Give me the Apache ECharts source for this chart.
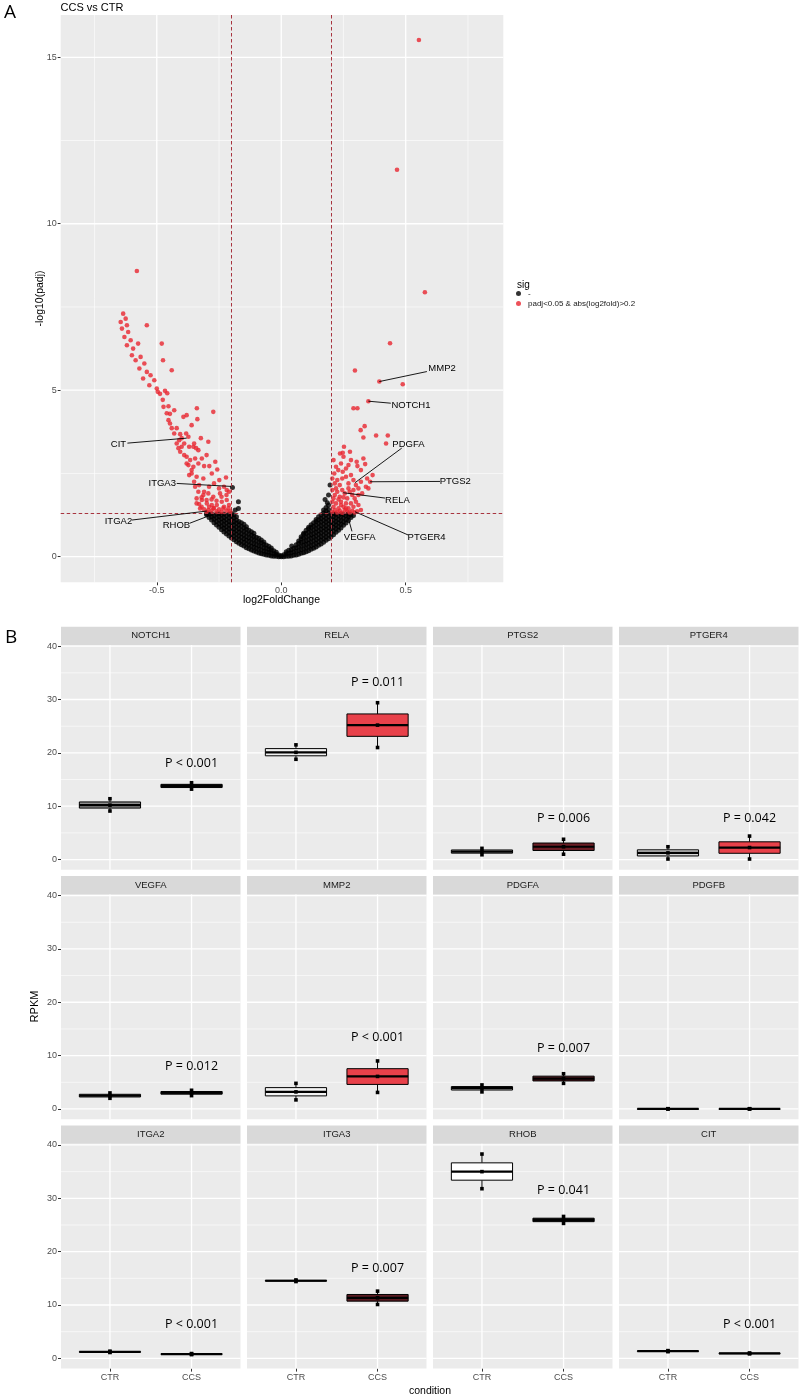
<!DOCTYPE html>
<html><head><meta charset="utf-8">
<script src="https://cdn.jsdelivr.net/npm/echarts@6/dist/echarts.min.js"></script>
<style>html,body{margin:0;padding:0;background:#fff}#c{width:800px;height:1397px}</style>
</head><body><div id="c"></div>
<script>
// ================= DATA =================
// Volcano: non-significant genes (black), given as columns [log2FoldChange, [-log10(padj) ...]]
const blackCols = [
 [-0.300,[1.26,1.30]],[-0.290,[1.18,1.28]],[-0.280,[1.10,1.20,1.29]],[-0.270,[1.02,1.13,1.24]],
 [-0.260,[0.95,1.06,1.17,1.28]],[-0.250,[0.88,0.99,1.10,1.21,1.29]],[-0.240,[0.81,0.92,1.03,1.14,1.25]],
 [-0.230,[0.74,0.85,0.96,1.07,1.18,1.28]],[-0.220,[0.68,0.79,0.90,1.01,1.12,1.23]],
 [-0.210,[0.62,0.73,0.84,0.95,1.06,1.17,1.28]],[-0.200,[0.56,0.67,0.78,0.89,1.00,1.11,1.22,1.30]],
 [-0.190,[0.51,0.62,0.73,0.84,0.95,1.06,1.17,1.26]],[-0.180,[0.45,0.56,0.67,0.78,0.89,1.00,1.10,1.20]],
 [-0.170,[0.40,0.51,0.62,0.73,0.84,0.95,1.06]],[-0.160,[0.36,0.47,0.58,0.69,0.80,0.91,1.02]],
 [-0.150,[0.32,0.43,0.54,0.65,0.76,0.87,0.97]],[-0.140,[0.27,0.38,0.49,0.60,0.71,0.82,0.90]],
 [-0.130,[0.24,0.35,0.46,0.57,0.68,0.79]],[-0.120,[0.20,0.31,0.42,0.53,0.64,0.75]],
 [-0.110,[0.17,0.28,0.39,0.50,0.61,0.70]],[-0.100,[0.14,0.25,0.36,0.47,0.58]],
 [-0.090,[0.11,0.22,0.33,0.44,0.55]],[-0.080,[0.09,0.20,0.31,0.42,0.50]],
 [-0.070,[0.07,0.17,0.27,0.37,0.44]],[-0.060,[0.05,0.15,0.25,0.35]],[-0.050,[0.04,0.13,0.22,0.31]],
 [-0.040,[0.02,0.11,0.20,0.26]],[-0.030,[0.01,0.09,0.18]],[-0.020,[0.01,0.07,0.13]],[-0.010,[0.00,0.05]],
 [0.000,[0.00,0.03]],[0.010,[0.00,0.06]],[0.020,[0.01,0.09,0.15]],[0.030,[0.01,0.10,0.19]],
 [0.040,[0.02,0.12,0.21]],[0.050,[0.04,0.14,0.25]],[0.060,[0.05,0.16,0.27,0.36]],
 [0.070,[0.07,0.18,0.29,0.40,0.47]],[0.080,[0.10,0.21,0.32,0.43,0.54,0.60]],
 [0.090,[0.12,0.23,0.34,0.45,0.56,0.67,0.70]],[0.100,[0.15,0.26,0.37,0.48,0.59,0.70,0.79]],
 [0.110,[0.18,0.29,0.40,0.51,0.62,0.73,0.84,0.88]],[0.120,[0.22,0.33,0.44,0.55,0.66,0.77,0.88,0.96]],
 [0.130,[0.25,0.36,0.47,0.58,0.69,0.80,0.91,1.02]],[0.140,[0.29,0.40,0.51,0.62,0.73,0.84,0.95,1.06,1.12]],
 [0.150,[0.34,0.45,0.56,0.67,0.78,0.89,1.00,1.11,1.20]],[0.160,[0.38,0.49,0.60,0.71,0.82,0.93,1.04,1.15,1.26]],
 [0.170,[0.43,0.54,0.65,0.76,0.87,0.98,1.09,1.20,1.31,1.40]],
 [0.180,[0.49,0.60,0.71,0.82,0.93,1.04,1.15,1.26,1.37,1.48]],
 [0.190,[0.54,0.65,0.76,0.87,0.98,1.09,1.20,1.31,1.42,1.55]],
 [0.200,[0.60,0.71,0.82,0.93,1.04,1.15,1.26]],[0.210,[0.66,0.77,0.88,0.99,1.10,1.21,1.29]],
 [0.220,[0.73,0.84,0.95,1.06,1.17,1.28]],[0.230,[0.79,0.90,1.01,1.12,1.23]],
 [0.240,[0.86,0.97,1.08,1.19,1.29]],[0.250,[0.94,1.05,1.16,1.27]],[0.260,[1.01,1.12,1.23]],
 [0.270,[1.09,1.20,1.29]],[0.280,[1.18,1.27]],[0.290,[1.24]]
];
const blackExtra = [[0.042,0.32],[-0.196,2.08],[-0.172,1.65],[-0.172,1.45],[-0.185,1.40],
 [0.196,2.15],[0.176,1.72],[0.185,1.62],[0.190,1.85]];
// Volcano: significant genes (red) [log2FoldChange, -log10(padj)]
const redPoints = [
 [0.553,15.52],[0.465,11.62],[0.577,7.94],[0.437,6.41],[0.296,5.59],[0.394,5.26],[0.488,5.18],[0.350,4.67],[0.290,4.46],[0.306,4.46],
 [0.319,3.80],[0.335,3.92],[0.330,3.58],[0.381,3.64],[0.428,3.64],[0.421,3.40],[0.252,3.30],[0.236,3.10],[0.247,3.12],[0.276,3.15],
 [0.330,2.95],[0.303,2.85],[0.306,2.72],[0.337,2.78],[0.367,2.45],[0.213,2.50],[0.229,2.60],[0.247,2.55],[0.357,2.25],[0.345,2.35],
 [0.205,2.35],[0.215,2.20],[0.225,2.30],[0.235,2.15],[0.245,2.35],[0.260,2.40],[0.270,2.20],[0.280,2.45],[0.290,2.30],[0.300,2.15],
 [0.310,2.05],[0.320,2.25],[0.340,2.10],[0.350,2.05],[0.205,2.00],[0.215,1.85],[0.225,1.95],[0.235,1.80],[0.245,2.00],[0.255,1.90],
 [0.265,1.75],[0.275,1.95],[0.285,1.85],[0.295,1.75],[0.310,1.85],[0.325,1.90],[0.205,1.65],[0.210,1.50],[0.220,1.60],[0.230,1.45],
 [0.240,1.65],[0.250,1.50],[0.260,1.60],[0.270,1.45],[0.280,1.60],[0.290,1.50],[0.300,1.65],[0.310,1.55],[0.320,1.40],[0.205,1.35],
 [0.215,1.40],[0.225,1.33],[0.235,1.38],[0.245,1.32],[0.255,1.40],[0.265,1.35],[0.275,1.33],[0.285,1.38],[0.295,1.33],[0.305,1.36],
 [0.220,2.70],[0.240,2.80],[0.260,2.65],[0.280,2.90],[0.250,3.00],[0.270,2.75],[0.320,2.60],[0.210,2.90],[0.230,1.72],[0.250,1.78],
 [0.210,1.75],[0.270,2.05],[0.290,2.00],[0.220,2.05],[0.240,1.55],[0.260,1.45],
 [-0.580,8.58],
 [-0.635,7.30],[-0.625,7.15],[-0.645,7.05],[-0.620,6.95],[-0.640,6.85],[-0.615,6.75],[-0.630,6.60],[-0.605,6.50],
 [-0.620,6.35],[-0.595,6.25],[-0.575,6.40],[-0.600,6.05],[-0.585,5.90],[-0.565,6.00],[-0.550,5.80],[-0.570,5.65],
 [-0.540,5.55],[-0.525,5.45],[-0.555,5.35],[-0.510,5.30],[-0.530,5.15],[-0.500,5.05],[-0.540,6.95],[-0.480,6.40],
 [-0.475,5.90],[-0.440,5.60],
 [-0.496,4.95],[-0.487,4.89],[-0.467,4.98],[-0.458,4.91],[-0.476,4.71],[-0.473,4.50],[-0.453,4.52],[-0.460,4.31],[-0.447,4.29],
 [-0.339,4.46],[-0.273,4.35],[-0.453,4.10],[-0.447,4.00],[-0.440,3.86],[-0.420,3.86],[-0.393,4.20],[-0.360,3.95],[-0.337,4.13],
 [-0.406,3.68],[-0.382,3.70],[-0.373,3.60],[-0.400,3.56],[-0.420,3.40],[-0.413,3.26],[-0.406,3.15],[-0.353,3.30],[-0.342,3.26],
 [-0.323,3.56],[-0.293,3.45],[-0.333,3.20],[-0.380,3.00],[-0.366,2.90],[-0.346,2.95],[-0.319,2.95],[-0.373,2.75],[-0.353,2.70],
 [-0.333,2.80],[-0.310,2.72],[-0.289,2.72],[-0.257,2.62],[-0.360,2.50],[-0.340,2.40],[-0.313,2.35],[-0.279,2.50],[-0.249,2.30],
 [-0.222,2.38],[-0.346,2.10],[-0.333,1.95],[-0.313,1.85],[-0.293,1.90],[-0.273,1.80],[-0.246,1.90],[-0.219,2.00],[-0.319,1.70],
 [-0.299,1.60],[-0.279,1.55],[-0.259,1.55],[-0.239,1.65],[-0.219,1.70],[-0.212,1.45],[-0.233,1.45],[-0.273,1.45],[-0.293,1.40],
 [-0.326,1.45],[-0.340,1.60],[-0.300,1.35],[-0.310,1.42],[-0.320,1.50],[-0.330,1.58],[-0.290,1.50],[-0.280,1.38],[-0.270,1.46],
 [-0.260,1.36],[-0.250,1.42],[-0.240,1.35],[-0.230,1.50],[-0.220,1.38],[-0.210,1.55],[-0.205,1.36],[-0.300,1.70],[-0.320,1.78],
 [-0.340,1.75],[-0.310,1.95],[-0.330,2.15],[-0.350,2.25],[-0.280,1.72],[-0.260,1.68],[-0.240,1.80],[-0.220,1.85],[-0.210,1.95],
 [-0.230,2.10],[-0.250,2.05],[-0.270,2.20],[-0.290,2.10],[-0.360,2.60],[-0.370,2.45],[-0.380,2.80],[-0.390,3.05],[-0.400,3.30],
 [-0.410,3.50],[-0.390,3.40],[-0.430,3.70],[-0.370,3.30],[-0.350,3.40],[-0.380,4.25],[-0.430,4.40],[-0.300,3.05],[-0.265,2.85]
];
// Gene labels: [name, point x, point y, line end x, line end y, text x, text y] (data units)
const geneLabels = [
 ['MMP2',0.394,5.26,0.585,5.56,0.646,5.66],
 ['NOTCH1',0.350,4.67,0.440,4.61,0.521,4.53],
 ['PDGFA',0.296,2.22,0.484,3.26,0.511,3.38],
 ['PTGS2',0.357,2.25,0.638,2.26,0.699,2.27],
 ['RELA',0.249,1.92,0.417,1.76,0.467,1.70],
 ['PTGER4',0.296,1.35,0.510,0.65,0.584,0.58],
 ['VEGFA',0.263,1.33,0.284,0.76,0.315,0.58],
 ['CIT',-0.380,3.56,-0.618,3.41,-0.654,3.38],
 ['ITGA3',-0.2016,2.11,-0.420,2.20,-0.478,2.20],
 ['ITGA2',-0.299,1.37,-0.600,1.10,-0.654,1.07],
 ['RHOB',-0.293,1.22,-0.369,1.00,-0.421,0.95]
];
const volcanoXTicks = [-0.5, 0, 0.5];
const volcanoXMinor = [-0.75, -0.25, 0.25, 0.75];
const volcanoYTicks = [0, 5, 10, 15];
const volcanoYMinor = [2.5, 7.5, 12.5];
const padjCut = 1.3;          // -log10(0.05)
const lfcCut = [-0.2, 0.2];

// Box plots (RPKM, 3 samples per condition)
const genes = ['NOTCH1','RELA','PTGS2','PTGER4','VEGFA','MMP2','PDGFA','PDGFB','ITGA2','ITGA3','RHOB','CIT'];
const conditions = ['CTR','CCS'];
const ctrSamples = [[9.1,10.2,11.4],[18.8,20.1,21.5],[0.9,1.5,2.1],[0.1,1.25,2.4],[2.0,2.5,3.0],[1.7,3.2,4.8],
 [3.2,3.9,4.5],[0.0,0.02,0.05],[1.1,1.2,1.35],[14.4,14.55,14.7],[31.8,35.0,38.3],[1.25,1.35,1.45]];
const ccsSamples = [[13.2,13.8,14.4],[21.0,25.2,29.4],[1.0,2.4,3.8],[0.1,2.25,4.4],[2.5,3.05,3.5],[3.1,6.1,9.0],
 [4.8,5.7,6.6],[0.0,0.02,0.05],[0.7,0.8,0.9],[10.1,11.35,12.6],[25.3,25.95,26.6],[0.85,0.93,1.0]];
const ctrFill = ['#8f8f8f','#f0f0f0','#d0d0d0','#d6d6d6','#e0e0e0','#f2f2f2','#e0e0e0','#ffffff','#e0e0e0','#e0e0e0','#ffffff','#e0e0e0'];
const ccsFill = ['#1e1e1e','#e8414a','#6b1d24','#e8414a','#222222','#e8414a','#5a1a20','#ffffff','#222222','#5a1a20','#222222','#222222'];
const pTexts = ['P < 0.001','P = 0.011','P = 0.006','P = 0.042','P = 0.012','P < 0.001','P = 0.007','','P < 0.001','P = 0.007','P = 0.041','P < 0.001'];
const pY = [18.0,33.25,7.8,7.8,7.93,13.4,11.4,0,6.43,16.9,31.56,6.43];
const rpkmTicks = [0,10,20,30,40];
const rpkmMinor = [5,15,25,35];

// ================= HELPERS =================
const FONT = '"Liberation Sans", Arial, sans-serif';
function quant(s, p){ const a=s.slice().sort((x,y)=>x-y); const h=(a.length-1)*p; const lo=Math.floor(h); const hi=Math.min(lo+1,a.length-1); return a[lo]+(h-lo)*(a[hi]-a[lo]); }
function boxStats(x, s){ return [x, Math.min(...s), quant(s,0.25), quant(s,0.5), quant(s,0.75), Math.max(...s), s[0], s[1], s[2]]; }
function gridLineData(mx, nx, my, ny){
  return mx.map(v=>[v,0]).concat(nx.map(v=>[v,1]), my.map(v=>[v,2]), ny.map(v=>[v,3]));
}
// kind 0/1: vertical major/minor, 2/3: horizontal major/minor
function makeLineRender(refX, refY, styleFor, snap){
  return function(params, api){
    const cs = params.coordSys; const v = api.value(0), k = api.value(1);
    const s = p => snap ? Math.round(p - 0.5) + 0.5 : p;
    let shape;
    if (k < 2){ const x = s(api.coord([v, refY])[0]); shape = {x1:x, y1:cs.y, x2:x, y2:cs.y+cs.height}; }
    else { const y = s(api.coord([refX, v])[1]); shape = {x1:cs.x, y1:y, x2:cs.x+cs.width, y2:y}; }
    return {type:'line', shape, silent:true, style:styleFor(k)};
  };
}
const gridStyle = k => ({stroke:'#ffffff', lineWidth:(k%2===0)?1.3:0.6});
const cutStyle = k => ({stroke:'#a8343f', lineWidth:1, lineDash:[3.5,2.5]});
function makeBoxRender(g){
  return function(params, api){
    const x = api.value(0);
    const c = i => api.coord([x, api.value(i)]);
    const half = api.size([0.75, 0])[0] / 2;
    const pMin=c(1), pQ1=c(2), pMed=c(3), pQ3=c(4), pMax=c(5);
    const cx = pMin[0];
    const fill = params.dataIndex === 0 ? ctrFill[g] : ccsFill[g];
    const ch = [
      {type:'line', shape:{x1:cx,y1:pMax[1],x2:cx,y2:pQ3[1]}, style:{stroke:'#000',lineWidth:1}},
      {type:'line', shape:{x1:cx,y1:pQ1[1],x2:cx,y2:pMin[1]}, style:{stroke:'#000',lineWidth:1}},
      {type:'rect', shape:{x:cx-half, y:pQ3[1], width:2*half, height:Math.max(pQ1[1]-pQ3[1],0.5)}, style:{fill:fill, stroke:'#000', lineWidth:1}},
      {type:'line', shape:{x1:cx-half,y1:pMed[1],x2:cx+half,y2:pMed[1]}, style:{stroke:'#000',lineWidth:2.2}}
    ];
    for (let i=6;i<=8;i++){ const p=c(i); ch.push({type:'rect', shape:{x:p[0]-1.8,y:p[1]-1.8,width:3.6,height:3.6}, style:{fill:'#000'}}); }
    if (params.dataIndex === 1 && pTexts[g]){
      const t = api.coord([2, pY[g]]);
      ch.push({type:'text', x:t[0], y:t[1], style:{text:pTexts[g], fill:'#000', font:'12.5px "Open Sans", sans-serif', align:'center', verticalAlign:'middle'}});
    }
    return {type:'group', children:ch};
  };
}
function labelRender(params, api){
  const L = geneLabels[params.dataIndex];
  const p = api.coord([L[1],L[2]]), l = api.coord([L[3],L[4]]), t = api.coord([L[5],L[6]]);
  return {type:'group', children:[
    {type:'line', shape:{x1:p[0],y1:p[1],x2:l[0],y2:l[1]}, style:{stroke:'#000', lineWidth:0.9}},
    {type:'text', x:t[0], y:t[1], style:{text:L[0], fill:'#000', font:'9.5px '+FONT, align:'center', verticalAlign:'middle'}}
  ]};
}

// ================= LAYOUT =================
const V = {left:60.7, top:15, width:442.6, height:567.3};
const colLeft = [61, 247, 433, 619], panelW = 179.5;
const rowTop = [645, 894.4, 1143.8], panelH = 224.8, stripH = 18.3;
const noLine = {show:false, onZero:false};

const grids = [Object.assign({show:true, backgroundColor:'#EBEBEB', borderWidth:0, outerBoundsMode:'none'}, V)];
const xAxes = [{
  gridIndex:0, type:'value', position:'bottom', min:-0.886, max:0.892, splitLine:{show:false}, axisLine:noLine,
  axisTick:{show:true, customValues:volcanoXTicks, length:3, lineStyle:{color:'#333', width:1}},
  axisLabel:{customValues:volcanoXTicks, formatter:v=>v.toFixed(1), color:'#4d4d4d', fontSize:9, fontFamily:FONT, margin:4}
}];
const yAxes = [{
  gridIndex:0, type:'value', position:'left', min:-0.77, max:16.27, splitLine:{show:false}, axisLine:noLine,
  axisTick:{show:true, customValues:volcanoYTicks, length:3, lineStyle:{color:'#333', width:1}},
  axisLabel:{customValues:volcanoYTicks, formatter:v=>String(v), color:'#4d4d4d', fontSize:9, fontFamily:FONT, margin:4}
}];
const blackData = blackCols.flatMap(([x, ys]) => ys.map(y => [x, y])).concat(blackExtra);
const series = [
  {type:'custom', name:'vgrid', xAxisIndex:0, yAxisIndex:0, z:1, clip:false, silent:true,
   data:gridLineData(volcanoXTicks, volcanoXMinor, volcanoYTicks, volcanoYMinor), renderItem:makeLineRender(0, 0, gridStyle, false)},
  {type:'scatter', name:'-', xAxisIndex:0, yAxisIndex:0, z:2, symbol:'circle', symbolSize:5, silent:true,
   itemStyle:{color:'#000000'}, data:blackData},
  {type:'scatter', name:'padj<0.05 & abs(log2fold)>0.2', xAxisIndex:0, yAxisIndex:0, z:3, symbol:'circle', symbolSize:4.6, silent:true,
   itemStyle:{color:'#e8262f'}, data:redPoints},
  {type:'custom', name:'cutoffs', xAxisIndex:0, yAxisIndex:0, z:4, clip:false, silent:true,
   data:gridLineData(lfcCut, [], [padjCut], []), renderItem:makeLineRender(0, 0, cutStyle, true)},
  {type:'custom', name:'labels', xAxisIndex:0, yAxisIndex:0, z:5, clip:false, silent:true,
   data:geneLabels.map(L=>[L[1],L[2]]), renderItem:labelRender}
];
const graphics = [
  {type:'text', x:4, y:13, style:{text:'A', font:'19px "Open Sans", sans-serif', fill:'#000', align:'left', verticalAlign:'middle'}},
  {type:'text', x:5, y:638, style:{text:'B', font:'19px "Open Sans", sans-serif', fill:'#000', align:'left', verticalAlign:'middle'}},
  {type:'text', x:60.5, y:7.5, style:{text:'CCS vs CTR', font:'11px '+FONT, fill:'#000', align:'left', verticalAlign:'middle'}},
  {type:'text', x:517, y:285, style:{text:'sig', font:'10px '+FONT, fill:'#000', align:'left', verticalAlign:'middle'}},
  {type:'text', x:40, y:298.5, rotation:Math.PI/2, style:{text:'-log10(padj)', font:'10.5px '+FONT, fill:'#000', align:'center', verticalAlign:'middle'}},
  {type:'text', x:281.5, y:600.5, style:{text:'log2FoldChange', font:'10.5px '+FONT, fill:'#000', align:'center', verticalAlign:'middle'}},
  {type:'text', x:35, y:1006.5, rotation:Math.PI/2, style:{text:'RPKM', font:'11px '+FONT, fill:'#000', align:'center', verticalAlign:'middle'}},
  {type:'text', x:430, y:1391.5, style:{text:'condition', font:'10.5px '+FONT, fill:'#000', align:'center', verticalAlign:'middle'}}
];

genes.forEach((g, i) => {
  const col = i % 4, row = Math.floor(i / 4), gi = i + 1;
  grids.push({left:colLeft[col], top:rowTop[row], width:panelW, height:panelH, show:true, backgroundColor:'#EBEBEB', borderWidth:0, outerBoundsMode:'none'});
  xAxes.push({gridIndex:gi, type:'value', position:'bottom', min:0.4, max:2.6, splitLine:{show:false}, axisLine:noLine,
    axisTick:{show:row===2, customValues:[1,2], length:3, lineStyle:{color:'#333', width:1}},
    axisLabel:{show:row===2, customValues:[1,2], formatter:v=>conditions[Math.round(v)-1] || '', color:'#4d4d4d', fontSize:9, fontFamily:FONT, margin:4}});
  yAxes.push({gridIndex:gi, type:'value', position:'left', min:-1.92, max:40.22, splitLine:{show:false}, axisLine:noLine,
    axisTick:{show:col===0, customValues:rpkmTicks, length:3, lineStyle:{color:'#333', width:1}},
    axisLabel:{show:col===0, customValues:rpkmTicks, formatter:v=>String(v), color:'#4d4d4d', fontSize:9, fontFamily:FONT, margin:4}});
  series.push({type:'custom', xAxisIndex:gi, yAxisIndex:gi, z:1, clip:false, silent:true,
    data:gridLineData([1,2], [], rpkmTicks, rpkmMinor), renderItem:makeLineRender(1, 0, gridStyle, false)});
  series.push({type:'custom', xAxisIndex:gi, yAxisIndex:gi, z:3, clip:false, silent:true,
    data:[boxStats(1, ctrSamples[i]), boxStats(2, ccsSamples[i])], renderItem:makeBoxRender(i)});
  const sy = rowTop[row] - stripH;
  graphics.push({type:'rect', shape:{x:colLeft[col], y:sy, width:panelW, height:stripH}, style:{fill:'#D9D9D9'}, silent:true});
  graphics.push({type:'text', x:colLeft[col]+panelW/2, y:sy+stripH/2, style:{text:g, font:'9.5px '+FONT, fill:'#1a1a1a', align:'center', verticalAlign:'middle'}});
});

const chart = echarts.init(document.getElementById('c'));
chart.setOption({
  animation:false, backgroundColor:'#ffffff',
  grid:grids, xAxis:xAxes, yAxis:yAxes, series:series, graphic:graphics,
  legend:{data:['-','padj<0.05 & abs(log2fold)>0.2'], left:516, top:289.5, orient:'vertical', padding:0,
    itemWidth:5, itemHeight:5, itemGap:2, icon:'circle', selectedMode:false,
    textStyle:{fontSize:8, lineHeight:8, color:'#1a1a1a', fontFamily:FONT, padding:[0,0,0,2]}}
});
</script></body></html>
